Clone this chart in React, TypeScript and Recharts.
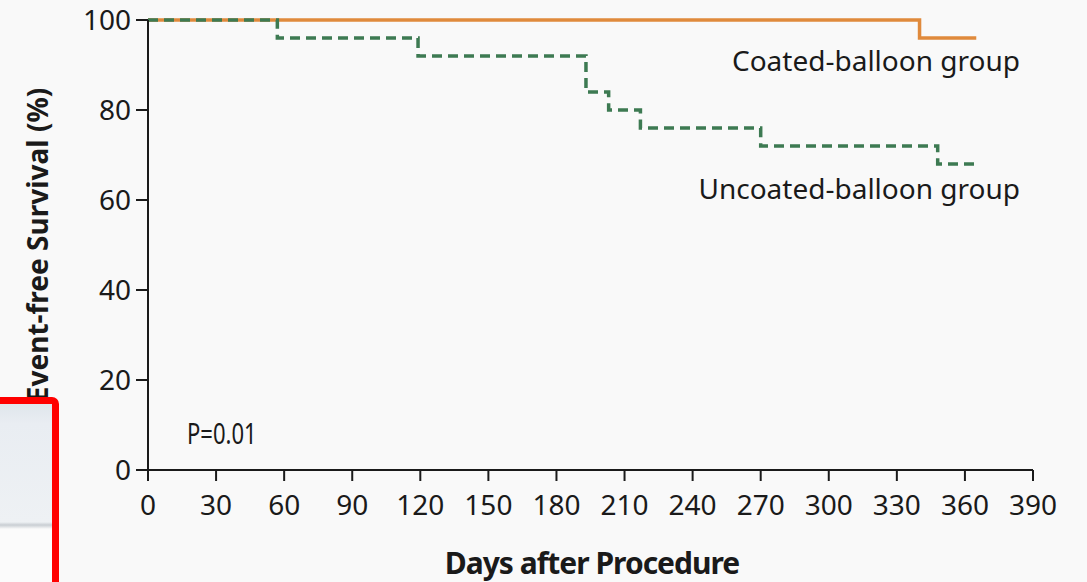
import { LineChart, Line, XAxis, YAxis } from 'recharts'

// Kaplan-Meier style step data
const coatedDays = [0, 340, 365]
const coatedSurvival = [100, 96, 96]

const uncoatedDays = [0, 57, 119, 193, 203, 217, 270, 348, 365]
const uncoatedSurvival = [100, 96, 92, 84, 80, 76, 72, 68, 68]

const xTicks = [0, 30, 60, 90, 120, 150, 180, 210, 240, 270, 300, 330, 360, 390]
const yTicks = [0, 20, 40, 60, 80, 100]

const coatedData = coatedDays.map((d, i) => ({ day: d, value: coatedSurvival[i] }))
const uncoatedData = uncoatedDays.map((d, i) => ({ day: d, value: uncoatedSurvival[i] }))

const FONT = '"Noto Sans", "Open Sans", sans-serif'
const tickStyle = { fontSize: 28, fill: '#1a1a1a', fontFamily: FONT }

export default function App() {
  return (
    <div style={{ position: 'absolute', left: 0, top: 0, width: 1087, height: 582, background: '#f9f9f9', overflow: 'hidden' }}>
      <LineChart width={1087} height={582} margin={{ top: 20, right: 54, bottom: 0, left: 0 }}>
        <XAxis
          dataKey="day"
          type="number"
          domain={[0, 390]}
          ticks={xTicks}
          allowDuplicatedCategory={false}
          height={112}
          tickSize={11}
          tickMargin={14}
          tick={tickStyle}
          axisLine={{ stroke: '#1a1a1a', strokeWidth: 2 }}
          tickLine={{ stroke: '#1a1a1a', strokeWidth: 2 }}
        />
        <YAxis
          type="number"
          domain={[0, 100]}
          ticks={yTicks}
          width={148}
          tickSize={12}
          tickMargin={5}
          tick={tickStyle}
          axisLine={{ stroke: '#1a1a1a', strokeWidth: 2 }}
          tickLine={{ stroke: '#1a1a1a', strokeWidth: 2 }}
        />
        <Line
          data={coatedData}
          dataKey="value"
          type="stepAfter"
          stroke="#e08a3c"
          strokeWidth={3.5}
          dot={false}
          isAnimationActive={false}
        />
        <Line
          data={uncoatedData}
          dataKey="value"
          type="stepAfter"
          stroke="#3d7a52"
          strokeWidth={3.5}
          strokeDasharray="10 6"
          dot={false}
          isAnimationActive={false}
        />
      </LineChart>

      <div style={{ position: 'absolute', right: 67, top: 41, fontFamily: FONT, fontSize: 28, color: '#1a1a1a', whiteSpace: 'nowrap' }}>
        Coated-balloon group
      </div>
      <div style={{ position: 'absolute', right: 67, top: 169, fontFamily: FONT, fontSize: 28, color: '#1a1a1a', whiteSpace: 'nowrap' }}>
        Uncoated-balloon group
      </div>
      <div
        style={{
          position: 'absolute',
          left: 187,
          top: 413,
          fontFamily: FONT,
          fontSize: 29,
          color: '#1a1a1a',
          whiteSpace: 'nowrap',
          transform: 'scaleX(0.76)',
          transformOrigin: 'left center',
        }}
      >
        P=0.01
      </div>
      <div
        style={{
          position: 'absolute',
          left: 37,
          top: 245,
          transform: 'translate(-50%, -50%) rotate(-90deg)',
          fontFamily: FONT,
          fontWeight: 700,
          fontSize: 28,
          color: '#1a1a1a',
          whiteSpace: 'nowrap',
        }}
      >
        Event-free Survival (%)
      </div>
      <div
        style={{
          position: 'absolute',
          left: 592,
          top: 542,
          transform: 'translateX(-50%)',
          fontFamily: FONT,
          fontWeight: 700,
          fontSize: 30,
          letterSpacing: -1,
          color: '#1a1a1a',
          whiteSpace: 'nowrap',
        }}
      >
        Days after Procedure
      </div>

      <div
        style={{
          position: 'absolute',
          left: -8,
          top: 397,
          width: 53,
          height: 200,
          border: '7px solid #ff0000',
          borderTopRightRadius: 7,
          background: 'linear-gradient(#dfe6ec 0px, #e9edf2 20px, #eef1f4 118px, #c9ced3 121px, #fbfbfb 125px)',
        }}
      />
    </div>
  )
}
